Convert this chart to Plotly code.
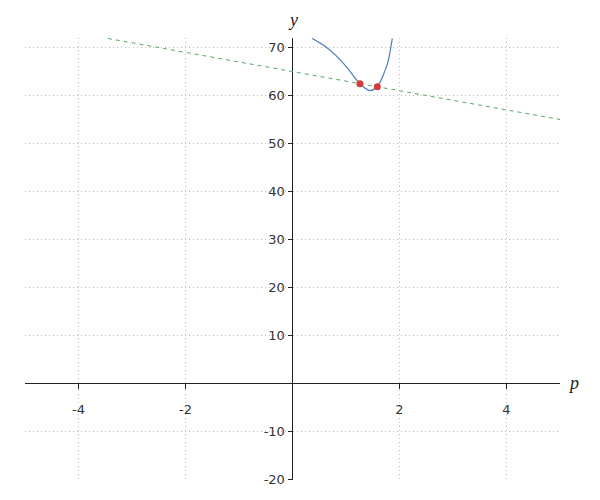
import plotly.graph_objects as go

# Curve
curve_p = [0.37, 0.607, 0.794, 0.888, 1.024, 1.262, 1.449, 1.585, 1.729, 1.79, 1.865]
curve_y = [71.9, 70.27, 68.54, 67.5, 65.77, 62.44, 61.04, 61.875, 65.2, 67.3, 71.9]

# Dashed straight line
line_p = [-3.45, 5.0]
line_y = [71.9, 55.0]

# Intersection points
pts_p = [1.26, 1.585]
pts_y = [62.45, 61.85]

x_ticks = [-4, -2, 2, 4]
y_ticks = [-20, -10, 10, 20, 30, 40, 50, 60, 70]

x_range = [-5, 5]
y_range = [-20, 72]

fig = go.Figure()
fig.add_trace(go.Scatter(x=line_p, y=line_y, mode="lines",
                         line=dict(color="#55a868", width=1, dash="4px,4px"),
                         hoverinfo="skip"))
fig.add_trace(go.Scatter(x=curve_p, y=curve_y, mode="lines",
                         line=dict(color="#4a7bbf", width=1.2, shape="spline", smoothing=1),
                         hoverinfo="skip"))
fig.add_trace(go.Scatter(x=pts_p, y=pts_y, mode="markers",
                         marker=dict(color="#d23c3c", size=7),
                         hoverinfo="skip"))

xpos = (0 - x_range[0]) / (x_range[1] - x_range[0])
ypos = (0 - y_range[0]) / (y_range[1] - y_range[0])

axis_common = dict(
    showline=False, zeroline=True, zerolinecolor="#222222", zerolinewidth=1,
    showgrid=True, gridcolor="#bbbbbb", griddash="1px,3px", gridwidth=1,
    ticks="outside", ticklen=5, tickcolor="#222222",
    tickfont=dict(family="DejaVu Sans", size=13, color="#333333"),
)

fig.update_layout(
    width=592, height=492,
    margin=dict(l=17, r=40, t=30, b=21),
    plot_bgcolor="white", paper_bgcolor="white",
    showlegend=False,
    font=dict(family="DejaVu Sans", size=13, color="#333333"),
    xaxis=dict(range=x_range, tickvals=x_ticks, ticktext=[str(v) for v in x_ticks],
               anchor="free", position=ypos, ticklabelstandoff=9, **axis_common),
    yaxis=dict(range=y_range, tickvals=y_ticks, ticktext=[str(v) for v in y_ticks],
               anchor="free", position=xpos, **axis_common),
    annotations=[
        dict(text="<i>y</i>", x=0, y=1, xref="x", yref="paper", xanchor="center",
             yanchor="bottom", yshift=6, showarrow=False,
             font=dict(family="Liberation Serif", size=18, color="#222222")),
        dict(text="<i>p</i>", x=1, y=0, xref="paper", yref="y", xanchor="left",
             yanchor="middle", xshift=6, showarrow=False,
             font=dict(family="Liberation Serif", size=18, color="#222222")),
    ],
)

fig.write_html("out.html")
